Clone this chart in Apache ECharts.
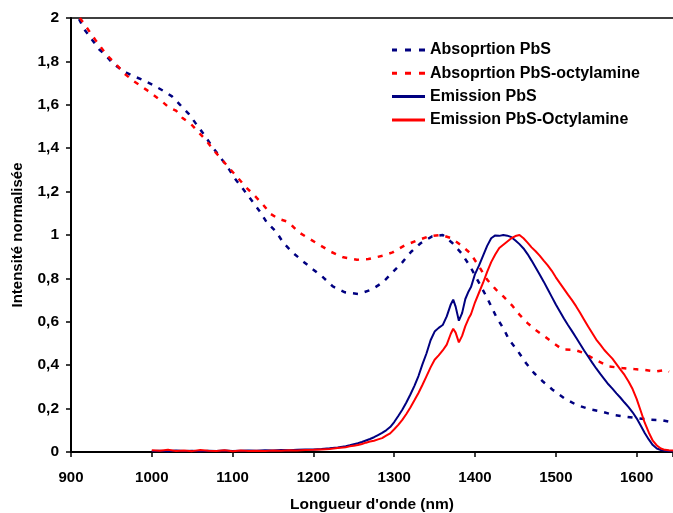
<!DOCTYPE html>
<html><head><meta charset="utf-8">
<script src="https://cdn.jsdelivr.net/npm/echarts@6/dist/echarts.min.js"></script>
<style>html,body{margin:0;padding:0;background:#fff}#c{width:673px;height:513px}</style>
</head><body><div id="c"></div>
<script>
// ---- data ----
const seriesNames = ["Absoprtion PbS","Absoprtion PbS-octylamine","Emission PbS","Emission PbS-Octylamine"];
const xTicks = [900,1000,1100,1200,1300,1400,1500,1600];
const yTicks = [0,0.2,0.4,0.6,0.8,1,1.2,1.4,1.6,1.8,2];

const absPbSX = [910,916,926,935,943,952,961,969,978,988,1002,1014,1025,1035,1046,1055,1065,1074,1084,1094,1103,1113,1123,1133,1142,1154,1163,1175,1188,1200,1212,1224,1239,1256,1272,1286,1298,1310,1321,1333,1347,1360,1372,1383,1394,1404,1415,1426,1436,1442,1453,1463,1473,1484,1496,1510,1525,1541,1556,1570,1584,1599,1615,1632,1640];
const absPbSY = [1.995,1.95,1.90,1.855,1.828,1.79,1.766,1.747,1.731,1.716,1.69,1.665,1.639,1.60,1.557,1.511,1.461,1.411,1.362,1.312,1.259,1.212,1.162,1.112,1.06,1.014,0.963,0.917,0.876,0.84,0.805,0.763,0.736,0.728,0.748,0.782,0.828,0.874,0.923,0.963,0.994,1.0,0.963,0.917,0.855,0.786,0.71,0.625,0.564,0.518,0.465,0.41,0.364,0.325,0.287,0.249,0.218,0.198,0.187,0.172,0.164,0.157,0.149,0.146,0.14];

const absOctX = [911,918,925,930,937,944,952,959,965,972,978,986,993,1000,1007,1014,1021,1030,1038,1048,1057,1068,1076,1085,1094,1105,1116,1126,1137,1147,1157,1169,1182,1195,1209,1222,1237,1254,1268,1286,1298,1313,1328,1343,1358,1370,1382,1394,1405,1415,1426,1435,1446,1455,1465,1475,1486,1497,1508,1523,1535,1549,1566,1582,1597,1609,1624,1636,1640];
const absOctY = [2.0,1.964,1.926,1.90,1.865,1.831,1.80,1.774,1.747,1.726,1.708,1.688,1.67,1.651,1.631,1.611,1.588,1.573,1.539,1.513,1.477,1.433,1.393,1.355,1.316,1.27,1.222,1.186,1.143,1.097,1.074,1.06,1.012,0.983,0.951,0.922,0.897,0.886,0.889,0.905,0.92,0.952,0.974,0.994,1.0,0.986,0.955,0.917,0.855,0.794,0.748,0.717,0.675,0.633,0.594,0.562,0.533,0.502,0.473,0.471,0.456,0.425,0.394,0.387,0.382,0.379,0.371,0.379,0.37];

const emX = [1000,1010,1020,1030,1040,1050,1060,1070,1080,1090,1100,1110,1120,1130,1140,1150,1160,1170,1180,1190,1200,1210,1220,1230,1240,1245,1250,1255,1260,1265,1270,1275,1280,1285,1290,1295,1300,1305,1310,1315,1320,1325,1330,1335,1340,1345,1350,1355,1360,1365,1370,1373,1376,1380,1384,1388,1392,1395,1400,1405,1410,1415,1420,1425,1430,1435,1440,1445,1450,1455,1460,1465,1470,1475,1480,1485,1490,1495,1500,1505,1510,1515,1520,1525,1530,1535,1540,1545,1550,1555,1560,1565,1570,1575,1580,1585,1590,1595,1600,1605,1610,1615,1620,1625,1630,1635,1640,1645];
const emPbS = [0.005,0.006,0.004,0.007,0.005,0.006,0.004,0.006,0.005,0.007,0.005,0.006,0.007,0.006,0.008,0.007,0.009,0.008,0.010,0.011,0.012,0.014,0.017,0.021,0.027,0.031,0.036,0.040,0.046,0.053,0.060,0.068,0.078,0.088,0.100,0.115,0.138,0.166,0.195,0.228,0.265,0.305,0.350,0.405,0.455,0.515,0.555,0.572,0.585,0.625,0.680,0.702,0.670,0.605,0.640,0.705,0.740,0.760,0.820,0.860,0.905,0.950,0.985,0.998,0.996,1.0,0.997,0.99,0.975,0.958,0.938,0.912,0.882,0.85,0.818,0.785,0.75,0.715,0.68,0.648,0.615,0.585,0.557,0.528,0.498,0.468,0.44,0.412,0.385,0.36,0.336,0.312,0.292,0.27,0.25,0.228,0.207,0.183,0.155,0.122,0.088,0.058,0.032,0.016,0.009,0.006,0.005,0.004];
const emOct = [0.008,0.006,0.010,0.005,0.007,0.004,0.009,0.006,0.005,0.008,0.004,0.007,0.005,0.006,0.005,0.007,0.006,0.008,0.007,0.009,0.010,0.012,0.014,0.018,0.022,0.026,0.029,0.032,0.037,0.043,0.048,0.052,0.058,0.064,0.075,0.086,0.105,0.125,0.148,0.175,0.205,0.238,0.272,0.31,0.35,0.39,0.425,0.445,0.468,0.495,0.545,0.568,0.55,0.505,0.535,0.58,0.615,0.635,0.69,0.735,0.78,0.83,0.875,0.91,0.94,0.955,0.97,0.985,0.995,1.0,0.985,0.965,0.943,0.925,0.905,0.882,0.86,0.835,0.805,0.778,0.752,0.725,0.7,0.672,0.642,0.61,0.578,0.548,0.518,0.495,0.47,0.45,0.43,0.405,0.38,0.355,0.325,0.29,0.245,0.19,0.135,0.09,0.052,0.03,0.016,0.010,0.008,0.007];

const navy = '#000080', red = '#FF0000';
const pairs = (xs, ys) => xs.map((x, i) => [x, ys[i]]);
const fmtY = v => String(Math.round(v * 10) / 10).replace('.', ',');
const FONT = 'Liberation Sans, Arial, sans-serif';
const DASH = [5, 7];
const DASH_ICON = 'path://M0,0h5v3h-5z M13,0h6v3h-6z M27,0h6v3h-6z';
const SOLID_ICON = 'path://M0,0h33v3h-33z';

const chart = echarts.init(document.getElementById('c'), null, {renderer: 'canvas'});
chart.setOption({
  animation: false,
  backgroundColor: '#fff',
  grid: {left: 71, right: 0, top: 18, bottom: 61, containLabel: false, outerBoundsMode: 'none'},
  legend: {
    orient: 'vertical', left: 387, top: 37, itemWidth: 33, itemHeight: 3, itemGap: 7.3,
    textStyle: {fontFamily: FONT, fontWeight: 'bold', fontSize: 16, color: '#000'},
    data: [
      {name: seriesNames[0], icon: DASH_ICON},
      {name: seriesNames[1], icon: DASH_ICON},
      {name: seriesNames[2], icon: SOLID_ICON},
      {name: seriesNames[3], icon: SOLID_ICON}
    ]
  },
  xAxis: [{
    type: 'value', min: 900, max: 1645, interval: 100,
    name: "Longueur d'onde (nm)", nameLocation: 'middle', nameGap: 45,
    nameTextStyle: {fontFamily: FONT, fontWeight: 'bold', fontSize: 15.5, color: '#000'},
    axisLine: {show: true, lineStyle: {color: '#000', width: 2}},
    axisTick: {show: true, inside: false, length: 5, lineStyle: {color: '#000', width: 1.5}},
    axisLabel: {fontFamily: FONT, fontWeight: 'bold', fontSize: 15, color: '#000', margin: 18,
      formatter: v => (xTicks.indexOf(v) >= 0 ? String(v) : '')},
    splitLine: {show: false}
  }, {
    type: 'value', min: 900, max: 1645, position: 'top',
    axisLine: {show: true, lineStyle: {color: '#000', width: 1.5}},
    axisTick: {show: false}, axisLabel: {show: false}, splitLine: {show: false}
  }],
  yAxis: {
    type: 'value', min: 0, max: 2, interval: 0.2,
    name: 'Intensité normalisée', nameLocation: 'middle', nameGap: 46, nameRotate: 90,
    nameTextStyle: {fontFamily: FONT, fontWeight: 'bold', fontSize: 15, color: '#000'},
    axisLine: {show: true, lineStyle: {color: '#000', width: 2}},
    axisTick: {show: true, inside: false, length: 5, lineStyle: {color: '#000', width: 1.5}},
    axisLabel: {fontFamily: FONT, fontWeight: 'bold', fontSize: 15.5, color: '#000', margin: 12,
      formatter: v => (yTicks.some(t => Math.abs(t - v) < 1e-6) ? fmtY(v) : '')},
    splitLine: {show: false}
  },
  series: [
    {name: seriesNames[0], type: 'line', data: pairs(absPbSX, absPbSY), showSymbol: false, symbol: 'none',
     lineStyle: {color: navy, width: 2.5, type: DASH}, itemStyle: {color: navy}},
    {name: seriesNames[1], type: 'line', data: pairs(absOctX, absOctY), showSymbol: false, symbol: 'none',
     lineStyle: {color: red, width: 2.5, type: DASH}, itemStyle: {color: red}},
    {name: seriesNames[2], type: 'line', data: pairs(emX, emPbS), showSymbol: false, symbol: 'none',
     lineStyle: {color: navy, width: 2}, itemStyle: {color: navy}},
    {name: seriesNames[3], type: 'line', data: pairs(emX, emOct), showSymbol: false, symbol: 'none',
     lineStyle: {color: red, width: 2}, itemStyle: {color: red}}
  ]
});
</script></body></html>
